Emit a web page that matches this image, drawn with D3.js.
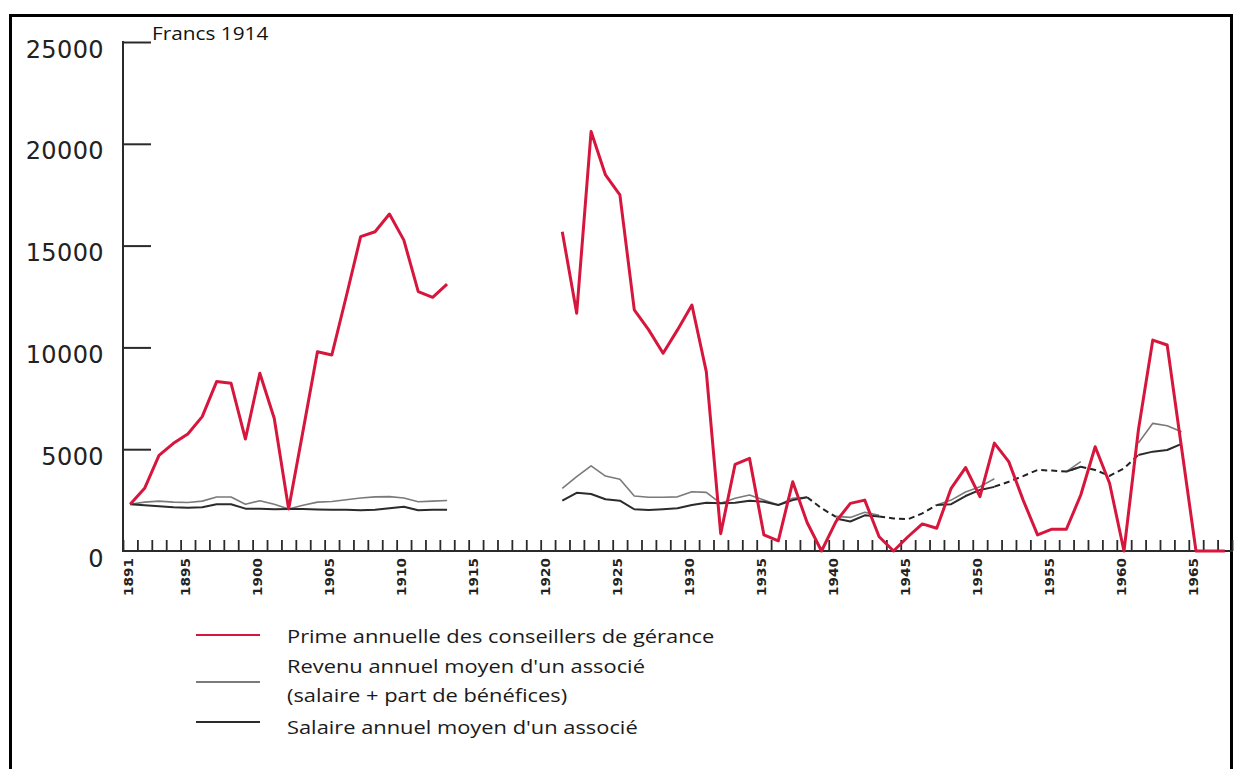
<!DOCTYPE html>
<html>
<head>
<meta charset="utf-8">
<script src="https://cdn.jsdelivr.net/npm/d3@7/dist/d3.min.js"></script>
<style>
  html, body { margin: 0; padding: 0; background: #fff; }
  svg { display: block; }
</style>
</head>
<body>
<svg id="chart" width="1235" height="769"></svg>
<script>
// ---------------- DATA ----------------
const years = d3.range(1891, 1968); // 1891 .. 1967

// Prime annuelle des conseillers de gérance (red)
const prime = [
  2300, 3080, 4700, 5290, 5750, 6600, 8320, 8240, 5500, 8730, // 1891-1900
  6520, 2060, 5900, 9790, 9630, 12500, 15440, 15680, 16550, 15270, // 1901-1910
  12740, 12460, 13110, null, null, null, null, null, null, null, // 1911-1920
  15680, 11680, 20600, 18470, 17490, 11840, 10860, 9710, 10860, 12080, // 1921-1930
  8810, 850, 4260, 4550, 790, 500, 3400, 1400, 0, 1440, // 1931-1940
  2340, 2500, 700, 0, 700, 1330, 1120, 3080, 4100, 2670, // 1941-1950
  5300, 4390, 2500, 790, 1070, 1070, 2750, 5120, 3330, 0, // 1951-1960
  5940, 10360, 10120, 5060, 0, 0, 0 // 1961-1967
];

// Revenu annuel moyen d'un associé (light grey)
const revenu = [
  2300, 2400, 2450, 2400, 2380, 2450, 2650, 2650, 2300, 2470,
  2300, 2060, 2250, 2400, 2430, 2520, 2600, 2660, 2670, 2600,
  2420, 2450, 2480, null, null, null, null, null, null, null,
  3080, 3650, 4180, 3680, 3520, 2700, 2640, 2640, 2660, 2910,
  2880, 2340, 2590, 2750, 2500, 2260, 2590, 2640, null, 1700,
  1650, 1900, 1750, null, null, null, 2260, 2500, 2900, 3160,
  3550, null, null, null, null, 3900, 4390, null, null, null,
  5300, 6270, 6150, 5860, null, null, null
];

// Salaire annuel moyen d'un associé (dark grey)
const salaire = [
  2300, 2250, 2200, 2150, 2130, 2150, 2300, 2300, 2080, 2070,
  2050, 2060, 2060, 2040, 2030, 2020, 2000, 2030, 2100, 2170,
  2000, 2020, 2030, null, null, null, null, null, null, null,
  2470, 2860, 2800, 2540, 2470, 2050, 2010, 2050, 2100, 2260,
  2370, 2340, 2370, 2470, 2420, 2260, 2500, 2640, null, 1600,
  1450, 1750, 1700, null, null, null, 2260, 2300, 2700, 3000,
  3150, null, null, null, null, 3900, 4140, null, null, null,
  4720, 4880, 4960, 5260, null, null, null
];

// Estimated (dashed) trend across the gaps
const estimate = [
  null, null, null, null, null, null, null, null, null, null,
  null, null, null, null, null, null, null, null, null, null,
  null, null, null, null, null, null, null, null, null, null,
  null, null, null, null, null, null, null, null, null, null,
  null, null, null, null, null, null, null, 2640, 2100, 1680,
  null, null, 1700, 1600, 1560, 1850, 2260, null, null, null,
  3160, 3400, 3680, 3980, 3950, 3900, 4140, 3980, 3690, 4060,
  4720, null, null, null, null, null, null
];

const yTicks = [0, 5000, 10000, 15000, 20000, 25000];
const xLabelYears = [1891, 1895, 1900, 1905, 1910, 1915, 1920, 1925, 1930, 1935, 1940, 1945, 1950, 1955, 1960, 1965];
const unitLabel = "Francs 1914";
const legendItems = [
  { lines: ["Prime annuelle des conseillers de gérance"], key: "prime" },
  { lines: ["Revenu annuel moyen d'un associé", "(salaire + part de bénéfices)"], key: "revenu" },
  { lines: ["Salaire annuel moyen d'un associé"], key: "salaire" }
];

// ---------------- STYLE ----------------
const colors = { prime: "#d6163c", revenu: "#7a7a7a", salaire: "#2b2b2b", axis: "#2a2a2a" };
const widths = { prime: 3, revenu: 1.6, salaire: 2 };
const textStretch = 1.2;

// ---------------- CHART ----------------
const svg = d3.select("#chart");

// frame
svg.append("rect")
  .attr("x", 10.5).attr("y", 15.5)
  .attr("width", 1221).attr("height", 800)
  .attr("fill", "none").attr("stroke", "#000").attr("stroke-width", 3);

const x = d3.scaleLinear().domain([1891, 1968]).range([123, 1232]);
const y = d3.scaleLinear().domain([0, 25000]).range([551, 42]);

const g = svg.append("g");

// y axis
const yAxis = d3.axisRight(y).tickValues(yTicks.filter(v => v > 0)).tickSize(28).tickFormat("");
const yG = g.append("g").attr("transform", `translate(${x(1891)},0)`).call(yAxis);
yG.select(".domain").remove();
yG.selectAll(".tick line").attr("stroke", colors.axis).attr("stroke-width", 2);
g.append("line")
  .attr("x1", x(1891)).attr("x2", x(1891))
  .attr("y1", y(25000) - 1).attr("y2", y(0))
  .attr("stroke", colors.axis).attr("stroke-width", 2);

// y labels
g.selectAll(".ylab").data(yTicks).enter().append("text")
  .attr("class", "ylab")
  .attr("x", 104)
  .attr("y", d => y(d) + 7)
  .attr("dy", "0.36em")
  .attr("text-anchor", "end")
  .attr("font-family", "DejaVu Sans, sans-serif")
  .attr("font-size", 24)
  .attr("letter-spacing", "0.4")
  .attr("fill", "#222")
  .text(d => d);

// unit label
g.append("text")
  .attr("transform", `translate(152,40) scale(${textStretch * 0.99},1)`)
  .attr("font-family", "Open Sans, sans-serif")
  .attr("font-size", 17.5)
  .attr("fill", "#111")
  .text(unitLabel);

// x axis
const xAxis = d3.axisTop(x).tickValues(d3.range(1891, 1969)).tickSize(11).tickFormat("");
const xG = g.append("g").attr("transform", `translate(0,${y(0)})`).call(xAxis);
xG.select(".domain").remove();
xG.selectAll(".tick line").attr("stroke", colors.axis).attr("stroke-width", 1.8);
g.append("line")
  .attr("x1", x(1891) - 1).attr("x2", x(1968) + 1)
  .attr("y1", y(0)).attr("y2", y(0))
  .attr("stroke", colors.axis).attr("stroke-width", 2.2);

// x labels (rotated)
g.selectAll(".xlab").data(xLabelYears).enter().append("text")
  .attr("class", "xlab")
  .attr("transform", d => `translate(${x(d + 0.5) - 2},${558}) rotate(-90)`)
  .attr("dy", "0.36em")
  .attr("text-anchor", "end")
  .attr("font-family", "DejaVu Sans, sans-serif")
  .attr("font-weight", "bold")
  .attr("font-size", 12)
  .attr("textLength", 38)
  .attr("lengthAdjust", "spacingAndGlyphs")
  .attr("fill", "#222")
  .text(d => d);

// lines
const line = d3.line()
  .defined(d => d[1] !== null)
  .x(d => x(d[0] + 0.5))
  .y(d => y(d[1]));

const pairs = arr => years.map((yr, i) => [yr, arr[i]]);

g.append("path")
  .datum(pairs(estimate))
  .attr("d", line)
  .attr("fill", "none")
  .attr("stroke", "#222")
  .attr("stroke-width", 2)
  .attr("stroke-dasharray", "6,4");

g.append("path")
  .datum(pairs(revenu))
  .attr("d", line)
  .attr("fill", "none")
  .attr("stroke", colors.revenu)
  .attr("stroke-width", widths.revenu)
  .attr("stroke-linejoin", "round");

g.append("path")
  .datum(pairs(salaire))
  .attr("d", line)
  .attr("fill", "none")
  .attr("stroke", colors.salaire)
  .attr("stroke-width", widths.salaire)
  .attr("stroke-linejoin", "round");

g.append("path")
  .datum(pairs(prime))
  .attr("d", line)
  .attr("fill", "none")
  .attr("stroke", colors.prime)
  .attr("stroke-width", widths.prime)
  .attr("stroke-linejoin", "round");

// legend
const legendPos = [
  { lineY: 635, textY: [643] },
  { lineY: 682, textY: [673, 702] },
  { lineY: 722, textY: [734] }
];
const lg = svg.append("g");
legendItems.forEach((item, i) => {
  const p = legendPos[i];
  lg.append("line")
    .attr("x1", 196).attr("x2", 260)
    .attr("y1", p.lineY).attr("y2", p.lineY)
    .attr("stroke", colors[item.key])
    .attr("stroke-width", item.key === "prime" ? 2.2 : 2);
  item.lines.forEach((t, j) => {
    lg.append("text")
      .attr("transform", `translate(287,${p.textY[j]}) scale(${textStretch * 1.012},1)`)
      .attr("font-family", "Open Sans, sans-serif")
      .attr("font-size", 18)
      .attr("fill", "#1a1a1a")
      .text(t);
  });
});
</script>
</body>
</html>
